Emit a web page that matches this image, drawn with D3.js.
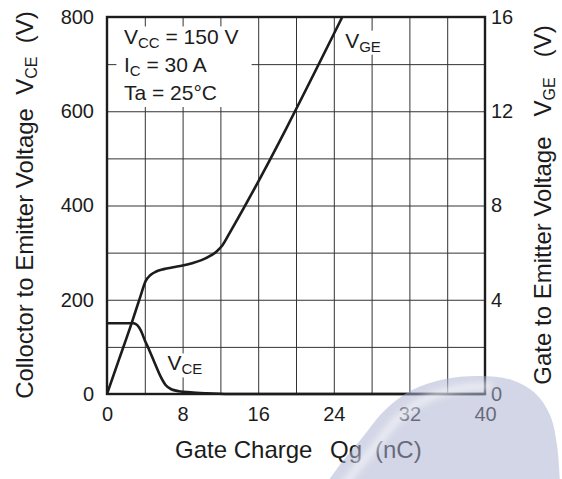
<!DOCTYPE html>
<html>
<head>
<meta charset="utf-8">
<script src="https://cdn.jsdelivr.net/npm/d3@7"></script>
<style>
  html, body { margin: 0; padding: 0; background: #fff; }
  svg { display: block; font-family: "Liberation Sans", Arial, sans-serif; }
</style>
</head>
<body>
<svg id="chart" width="562" height="479"></svg>
<script>
// Gate charge characteristics: Qg (nC) vs VCE (left axis) and VGE (right axis)
const qgTicks = [0, 8, 16, 24, 32, 40];
const vceTicks = [0, 200, 400, 600, 800];
const vgeTicks = [0, 4, 8, 12, 16];

// VGE (V) against gate charge (nC)
const vgeQg = [0, 1.3, 2.6, 3.5, 4.1, 4.6, 5.2, 6, 7, 8, 9, 10, 11, 11.6, 12.2, 13, 24.9];
const vgeV  = [0, 1.5, 3.0, 4.1, 4.8, 5.05, 5.2, 5.3, 5.38, 5.45, 5.55, 5.68, 5.88, 6.05, 6.3, 6.85, 16];

// VCE (V) against gate charge (nC)
const vceQg = [0, 2.8, 3.2, 3.6, 4.0, 4.5, 5.0, 5.6, 6.2, 6.8, 7.6, 8.8, 10.5, 13, 40];
const vceV  = [150, 150, 146, 134, 114, 92, 68, 40, 19, 10, 6, 3.5, 1.5, 0, 0];

const conditions = [
  { main: "V", sub: "CC", rest: " = 150 V" },
  { main: "I", sub: "C", rest: " = 30 A" },
  { main: "Ta = 25°C", sub: "", rest: "" }
];

const svg = d3.select("#chart");
const plot = { left: 107, right: 485, top: 17, bottom: 394 };

const x = d3.scaleLinear().domain([0, 40]).range([plot.left, plot.right]);
const yL = d3.scaleLinear().domain([0, 800]).range([plot.bottom, plot.top]);
const yR = d3.scaleLinear().domain([0, 16]).range([plot.bottom, plot.top]);

const ink = "#1c1c1c";
const fs = 20;       // tick labels
const noteFs = 21;   // conditions and curve labels
const titleFs = 24;  // axis titles

const defs = svg.append("defs");

// grid
const grid = svg.append("g").attr("class", "grid");
grid.append("g")
  .attr("transform", `translate(0,${plot.bottom})`)
  .call(d3.axisBottom(x).tickValues(d3.range(0, 41, 4)).tickSize(-(plot.bottom - plot.top)).tickFormat(""))
  .call(g => g.select(".domain").remove())
  .call(g => g.selectAll("line").attr("stroke", "#333").attr("stroke-width", 1));
grid.append("g")
  .attr("transform", `translate(${plot.left},0)`)
  .call(d3.axisLeft(yL).tickValues(d3.range(0, 801, 100)).tickSize(-(plot.right - plot.left)).tickFormat(""))
  .call(g => g.select(".domain").remove())
  .call(g => g.selectAll("line").attr("stroke", "#333").attr("stroke-width", 1));

// conditions box (white panel over the grid)
svg.append("rect")
  .attr("x", x(1)).attr("y", yL(780))
  .attr("width", x(15.3) - x(1)).attr("height", yL(609) - yL(780))
  .attr("fill", "#fff");

const cond = svg.append("g").attr("font-size", noteFs).attr("fill", ink);
conditions.forEach((c, i) => {
  const t = cond.append("text").attr("x", 124).attr("y", 44 + i * 28);
  t.append("tspan").text(c.main);
  if (c.sub) {
    t.append("tspan").attr("font-size", 15).attr("dy", 4).text(c.sub);
    t.append("tspan").attr("dy", -4).text(c.rest);
  }
});

// curves
const vgeLine = d3.line()
  .x((d, i) => x(vgeQg[i]))
  .y(d => yR(d))
  .curve(d3.curveMonotoneX);
const vceLine = d3.line()
  .x((d, i) => x(vceQg[i]))
  .y(d => yL(d))
  .curve(d3.curveMonotoneX);

svg.append("path")
  .attr("d", vceLine(vceV))
  .attr("fill", "none").attr("stroke", ink).attr("stroke-width", 2.6)
  .attr("stroke-linejoin", "round");

defs.append("clipPath").attr("id", "plotClip")
  .append("rect").attr("x", plot.left).attr("y", plot.top)
  .attr("width", plot.right - plot.left).attr("height", plot.bottom - plot.top);

svg.append("path")
  .attr("d", vgeLine(vgeV))
  .attr("clip-path", "url(#plotClip)")
  .attr("fill", "none").attr("stroke", ink).attr("stroke-width", 2.6)
  .attr("stroke-linejoin", "round");

// curve labels with white backing
function curveLabel(px, py, main, sub) {
  const g = svg.append("g");
  const bg = g.append("rect").attr("fill", "#fff");
  const t = g.append("text").attr("x", px).attr("y", py).attr("font-size", noteFs).attr("fill", ink);
  t.append("tspan").text(main);
  t.append("tspan").attr("font-size", 15).attr("dy", 4).text(sub);
  const b = t.node().getBBox();
  bg.attr("x", b.x - 1).attr("y", b.y + 2).attr("width", b.width + 2).attr("height", b.height - 2);
}
curveLabel(x(25.2), yR(14.7), "V", "GE");
curveLabel(x(6.4), yL(50), "V", "CE");

// frame
svg.append("rect")
  .attr("x", plot.left).attr("y", plot.top)
  .attr("width", plot.right - plot.left).attr("height", plot.bottom - plot.top)
  .attr("fill", "none").attr("stroke", ink).attr("stroke-width", 2.4);

// tick labels
function styleAxis(g) {
  g.select(".domain").remove();
  g.selectAll("text").attr("font-size", fs).attr("fill", ink).attr("font-family", "Liberation Sans, Arial, sans-serif");
}
svg.append("g")
  .attr("transform", `translate(0,${plot.bottom})`)
  .call(d3.axisBottom(x).tickValues(qgTicks).tickSize(0).tickPadding(13))
  .call(styleAxis);
svg.append("g")
  .attr("transform", `translate(${plot.left},0)`)
  .call(d3.axisLeft(yL).tickValues(vceTicks).tickSize(0).tickPadding(13))
  .call(styleAxis);
svg.append("g")
  .attr("transform", `translate(${plot.right},0)`)
  .call(d3.axisRight(yR).tickValues(vgeTicks).tickSize(0).tickPadding(6))
  .call(styleAxis);

// axis titles
const xt = svg.append("g").attr("font-size", titleFs).attr("fill", ink);
xt.append("text").attr("x", 175).attr("y", 458).text("Gate Charge");
xt.append("text").attr("x", 330).attr("y", 458).text("Qg");
xt.append("text").attr("x", 375).attr("y", 458).text("(nC)");

const lt = svg.append("text")
  .attr("transform", "translate(33,205) rotate(-90)")
  .attr("text-anchor", "middle").attr("font-size", titleFs).attr("fill", ink)
  .attr("xml:space", "preserve");
lt.append("tspan").text("Colloctor to Emitter Voltage  V");
lt.append("tspan").attr("font-size", 16).attr("dy", 4).text("CE");
lt.append("tspan").attr("dy", -4).text("  (V)");

const rt = svg.append("text")
  .attr("transform", "translate(551,205) rotate(-90)")
  .attr("text-anchor", "middle").attr("font-size", titleFs).attr("fill", ink)
  .attr("xml:space", "preserve");
rt.append("tspan").text("Gate to Emitter Voltage   V");
rt.append("tspan").attr("font-size", 16).attr("dy", 4).text("GE");
rt.append("tspan").attr("dy", -4).text("   (V)");

// translucent emblem in the lower right corner
const emblemPts = [[326, 484], [342, 462], [362, 438], [385, 410], [412, 390], [445, 379],
  [480, 376], [512, 380], [535, 393], [550, 415], [557, 445], [560, 484]];
const emblemPath = d3.line().curve(d3.curveCatmullRom)(emblemPts);
svg.append("path")
  .attr("d", emblemPath + "Z")
  .attr("fill", "rgb(170,177,208)").attr("fill-opacity", 0.52);

// soft sheen along the upper-left rim
defs.append("filter").attr("id", "soft").append("feGaussianBlur").attr("stdDeviation", 3);
defs.append("clipPath").attr("id", "emblemClip").append("path").attr("d", emblemPath + "Z");
svg.append("g").attr("clip-path", "url(#emblemClip)")
  .append("path")
  .attr("d", d3.line().curve(d3.curveCatmullRom)(emblemPts.slice(0, 7).map(([a, b]) => [a + 12, b + 10])))
  .attr("fill", "none").attr("stroke", "#fff").attr("stroke-opacity", 0.5)
  .attr("stroke-width", 8).attr("filter", "url(#soft)");
</script>
</body>
</html>
